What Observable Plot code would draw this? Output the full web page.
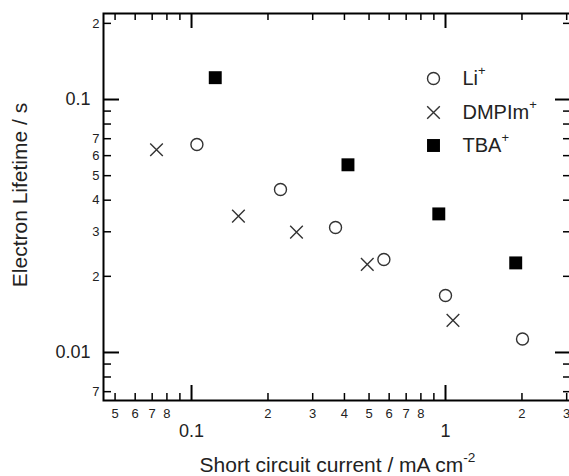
<!DOCTYPE html>
<html><head><meta charset="utf-8">
<script src="https://cdn.jsdelivr.net/npm/d3@7"></script>
<script src="https://cdn.jsdelivr.net/npm/@observablehq/plot@0.6"></script>
<style>html,body{margin:0;padding:0;background:#fff;overflow:hidden}</style>
</head><body><div id="chart"></div>
<script>
// ---- data ----
const seriesNames = ["Li^+", "DMPIm^+", "TBA^+"];
const liX  = [0.105, 0.224, 0.369, 0.572, 1.00, 2.01];
const liY  = [0.0664, 0.0441, 0.0312, 0.0233, 0.0168, 0.0113];
const dmpX = [0.0728, 0.153, 0.259, 0.492, 1.07];
const dmpY = [0.0633, 0.0346, 0.0299, 0.0223, 0.0134];
const tbaX = [0.124, 0.413, 0.941, 1.89];
const tbaY = [0.122, 0.0552, 0.0353, 0.0226];

const xMajorTicks  = [0.1, 1];
const xMinorTicks  = [0.05,0.06,0.07,0.08,0.09,0.2,0.3,0.4,0.5,0.6,0.7,0.8,0.9,2,3];
const xMinorLabels = [0.05,0.06,0.07,0.08,0.2,0.3,0.4,0.5,0.6,0.7,0.8,2,3];
const yMajorTicks  = [0.01, 0.1];
const yMinorTicks  = [0.007,0.008,0.009,0.02,0.03,0.04,0.05,0.06,0.07,0.08,0.09,0.2];
const yMinorLabels = [0.007,0.02,0.03,0.04,0.05,0.06,0.07,0.2];

const xTitle = "Short circuit current / mA cm^-2";
const yTitle = "Electron Lifetime / s";

// ---- build ----
const rows = (xs, ys, s) => xs.map((x, i) => ({x, y: ys[i], s}));
const li = rows(liX, liY, seriesNames[0]);
const dmp = rows(dmpX, dmpY, seriesNames[1]);
const tba = rows(tbaX, tbaY, seriesNames[2]);
const digit = d => String(Math.round(d / Math.pow(10, Math.floor(Math.log10(d) + 1e-9))));
const major = d => String(d);
const ink = "#222";
const FONT = "Liberation Sans, Arial, Helvetica, sans-serif";

const xLab = (data, pad, fmt, fs) =>
  Plot.text(data, {x: d => d, frameAnchor: "bottom", dy: pad, lineAnchor: "top", textAnchor: "middle", text: fmt, fontSize: fs, fontFamily: FONT, fill: ink});
const yLab = (data, pad, fmt, fs) =>
  Plot.text(data, {y: d => d, frameAnchor: "left", dx: -pad, lineAnchor: "middle", textAnchor: "end", text: fmt, fontSize: fs, fontFamily: FONT, fill: ink});

const chart = Plot.plot({
  width: 569, height: 476,
  marginLeft: 103, marginRight: -2, marginTop: 13, marginBottom: 76,
  x: {type: "log", domain: [0.04502, 3.134], axis: null},
  y: {type: "log", domain: [0.006459, 0.2188], axis: null},
  marks: [
    Plot.frame({stroke: "black", strokeWidth: 2, fill: "none"}),
    xLab(xMinorLabels, 8, digit, 13),
    xLab(xMajorTicks, 24, major, 18),
    yLab(yMinorLabels, 4, digit, 13),
    yLab(yMajorTicks, 13, major, 18),
    Plot.dot(li, {x: "x", y: "y", r: 6, symbol: "circle", stroke: "#333", strokeWidth: 1.4, fill: "none"}),
    Plot.dot(dmp, {x: "x", y: "y", r: 5.8, symbol: "times", stroke: "#333", strokeWidth: 1.4}),
    Plot.dot(tba, {x: "x", y: "y", r: 7.3, symbol: "square", fill: "black", stroke: "none"}),
    // legend
    Plot.dot([seriesNames[0]], {frameAnchor: "top-left", dx: 330, dy: 65, r: 6, symbol: "circle", stroke: "#333", strokeWidth: 1.4, fill: "none"}),
    Plot.dot([seriesNames[1]], {frameAnchor: "top-left", dx: 330, dy: 99, r: 5.8, symbol: "times", stroke: "#333", strokeWidth: 1.4}),
    Plot.dot([seriesNames[2]], {frameAnchor: "top-left", dx: 330, dy: 132, r: 7.3, symbol: "square", fill: "black", stroke: "none"}),
    Plot.text([seriesNames[0]], {frameAnchor: "top-left", dx: 359, dy: 65, text: d => d, textAnchor: "start", lineAnchor: "middle", fontSize: 20, fontFamily: FONT, fill: ink}),
    Plot.text([seriesNames[1]], {frameAnchor: "top-left", dx: 359, dy: 99, text: d => d, textAnchor: "start", lineAnchor: "middle", fontSize: 20, fontFamily: FONT, fill: ink}),
    Plot.text([seriesNames[2]], {frameAnchor: "top-left", dx: 359, dy: 132, text: d => d, textAnchor: "start", lineAnchor: "middle", fontSize: 20, fontFamily: FONT, fill: ink}),
    // axis titles
    Plot.text([yTitle], {frameAnchor: "left", dx: -83, dy: -12, rotate: -90, text: d => d, textAnchor: "middle", lineAnchor: "middle", fontSize: 21, fontFamily: FONT, fill: ink}),
    Plot.text([xTitle], {frameAnchor: "bottom", dy: 65, text: d => d, textAnchor: "middle", lineAnchor: "middle", fontSize: 21, fontFamily: FONT, fill: ink}),
    // inward ticks (rules inset so only a stub remains at one frame edge); frame is 387 high, 468 wide
    Plot.ruleX(xMinorTicks, {x: d => d, stroke: "black", strokeWidth: 1.5, insetTop: 380}),
    Plot.ruleX(xMajorTicks, {x: d => d, stroke: "black", strokeWidth: 2, insetTop: 372}),
    Plot.ruleX(xMinorTicks, {x: d => d, stroke: "black", strokeWidth: 1.5, insetBottom: 380}),
    Plot.ruleX(xMajorTicks, {x: d => d, stroke: "black", strokeWidth: 2, insetBottom: 372}),
    Plot.ruleY(yMinorTicks, {y: d => d, stroke: "black", strokeWidth: 1.5, insetRight: 460}),
    Plot.ruleY(yMajorTicks, {y: d => d, stroke: "black", strokeWidth: 2, insetRight: 452}),
    Plot.ruleY(yMinorTicks, {y: d => d, stroke: "black", strokeWidth: 1.5, insetLeft: 460}),
    Plot.ruleY(yMajorTicks, {y: d => d, stroke: "black", strokeWidth: 2, insetLeft: 452})
  ]
});

// turn "a^b" into a superscript tspan
const NS = "http://www.w3.org/2000/svg";
chart.querySelectorAll("text").forEach(t => {
  const m = t.textContent.match(/^(.*)\^(.*)$/);
  if (!m) return;
  t.textContent = m[1];
  const ts = document.createElementNS(NS, "tspan");
  ts.setAttribute("dy", "-0.75em");
  ts.setAttribute("font-size", "0.65em");
  ts.textContent = m[2];
  t.appendChild(ts);
});
document.getElementById("chart").appendChild(chart);
</script>
</body></html>
